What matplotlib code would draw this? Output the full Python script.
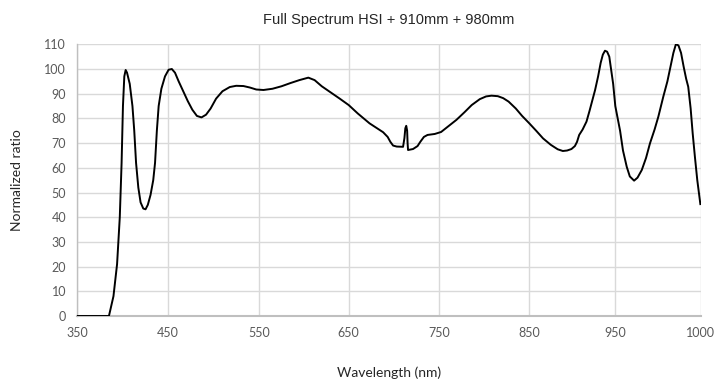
import numpy as np
import matplotlib
matplotlib.use("Agg")
import matplotlib.pyplot as plt

# spectrum (wavelength in axis-label units, normalized ratio)
wavelength = [
    350, 385, 390, 394, 397, 399, 400.5, 402, 403.5, 405, 408, 411, 413, 415,
    417.5, 420, 423, 425.5, 428, 431, 434, 436, 438, 440, 443, 447, 451, 454.5,
    458, 462, 467, 472, 477, 482, 487, 492, 497, 503, 510, 518, 525, 533, 540,
    547, 555, 565, 575, 585, 595, 605, 612, 620, 630, 640, 650, 660, 673, 680,
    688, 693, 696, 699, 703, 710, 711.5, 712.5, 713.5, 714.5, 715, 715.5, 721,
    726, 729, 733, 737, 745, 752, 760, 769, 778, 786, 795, 802, 808, 815, 821,
    827, 835, 842, 850, 858, 866, 875, 883, 889, 894, 899, 903, 905.5, 908,
    912, 916.5, 920, 923, 926.5, 930, 933, 935.5, 938, 940.5, 943, 945, 947.5,
    950, 952.8, 954.5, 956.7, 958.5, 961, 963, 965.5, 968, 970.3, 973, 975.2,
    978.1, 980.5, 982.5, 984, 985.5, 987, 988.5, 990, 991.5, 992.7, 994.1,
    995.3, 996.6, 998, 999.8,
]
ratio = [
    0, 0, 8, 21, 40, 62, 85, 97, 99.6, 98.5, 94, 85, 75, 62,
    52, 46, 43.5, 43.2, 45, 49, 55, 62, 75, 85, 92, 97, 99.7, 100,
    98.5, 95, 91, 87, 83.5, 81, 80.4, 81.5, 84, 88, 91, 92.7, 93.2, 93.1, 92.5,
    91.7, 91.5, 92, 93, 94.3, 95.5, 96.5, 95.5, 93, 90.5, 88, 85.4, 82, 78, 76.3,
    74.4, 72.5, 70.5, 69.0, 68.6, 68.5, 72, 76, 77, 75, 70, 67.2, 67.6,
    68.8, 70.5, 72.5, 73.3, 73.7, 74.5, 76.8, 79.4, 82.5, 85.4, 87.8, 88.9, 89.2, 89, 88.2,
    86.8, 84, 81, 78, 75, 71.9, 69.3, 67.5, 66.8, 67, 67.6, 68.8, 70.5, 73.3,
    75.5, 78.7, 83, 87, 91.5, 97, 102.5, 105.8, 107.4, 107, 105, 100, 94,
    85, 75, 67, 60.4, 56.5, 54.8, 56, 59.1, 64, 69.9, 75.5, 80.7,
    88.8, 95, 101.5, 106.5, 110.1, 109.5, 106.5, 101, 96, 92.8, 84.1,
    74, 64.5, 55, 45.3,
]

tick_wl = [350, 450, 550, 650, 750, 850, 950, 1000]
tick_labels = ["350", "450", "550", "650", "750", "850", "950", "1000"]
# category-style axis: label spacing on screen is not proportional to nm
tick_pos = [0.0, 90.4, 181.7, 271.4, 362.0, 452.0, 538.0, 623.4]
y_ticks = list(range(0, 111, 10))


def fwd(x):
    return np.interp(x, tick_wl, tick_pos)


def inv(p):
    return np.interp(p, tick_pos, tick_wl)


fig = plt.figure(figsize=(7.14, 3.90), dpi=100)
ax = fig.add_axes([77.3 / 714, 74 / 390, 623.4 / 714, 271.7 / 390])
ax.set_xscale("function", functions=(fwd, inv))

ax.plot(wavelength, ratio, color="black", lw=1.4, solid_joinstyle="round", zorder=3)

ax.set_xlim(350, 1000)
ax.set_ylim(0, 110)
ax.set_xticks(tick_wl)
ax.set_xticklabels(tick_labels)
ax.set_yticks(y_ticks)
ax.xaxis.set_minor_locator(matplotlib.ticker.NullLocator())

ax.grid(True, color="#d9d9d9", lw=1.0, zorder=0)
ax.set_axisbelow(True)
for s in ("top", "right"):
    ax.spines[s].set_visible(False)
ax.spines["bottom"].set_color("#bfbfbf")
ax.spines["bottom"].set_linewidth(1.5)
ax.spines["left"].set_color("#bfbfbf")
ax.spines["left"].set_linewidth(1.0)
ax.tick_params(length=0, labelsize=9, labelcolor="#595959", pad=8)
for lab in ax.get_xticklabels() + ax.get_yticklabels():
    lab.set_fontfamily("Lato")

fig.text(389 / 714, 1 - 20 / 390, "Full Spectrum HSI + 910mm + 980mm",
         ha="center", va="center", fontsize=10.5, family="Liberation Sans",
         color="#262626")
fig.text(389 / 714, 1 - 373 / 390, "Wavelength (nm)", ha="center", va="center",
         fontsize=10, family="Lato", color="#262626")
fig.text(17 / 714, 1 - 180 / 390, "Normalized ratio", ha="center", va="center",
         rotation=90, fontsize=10, family="Lato", color="#262626")

fig.savefig("out.png", dpi=100)
